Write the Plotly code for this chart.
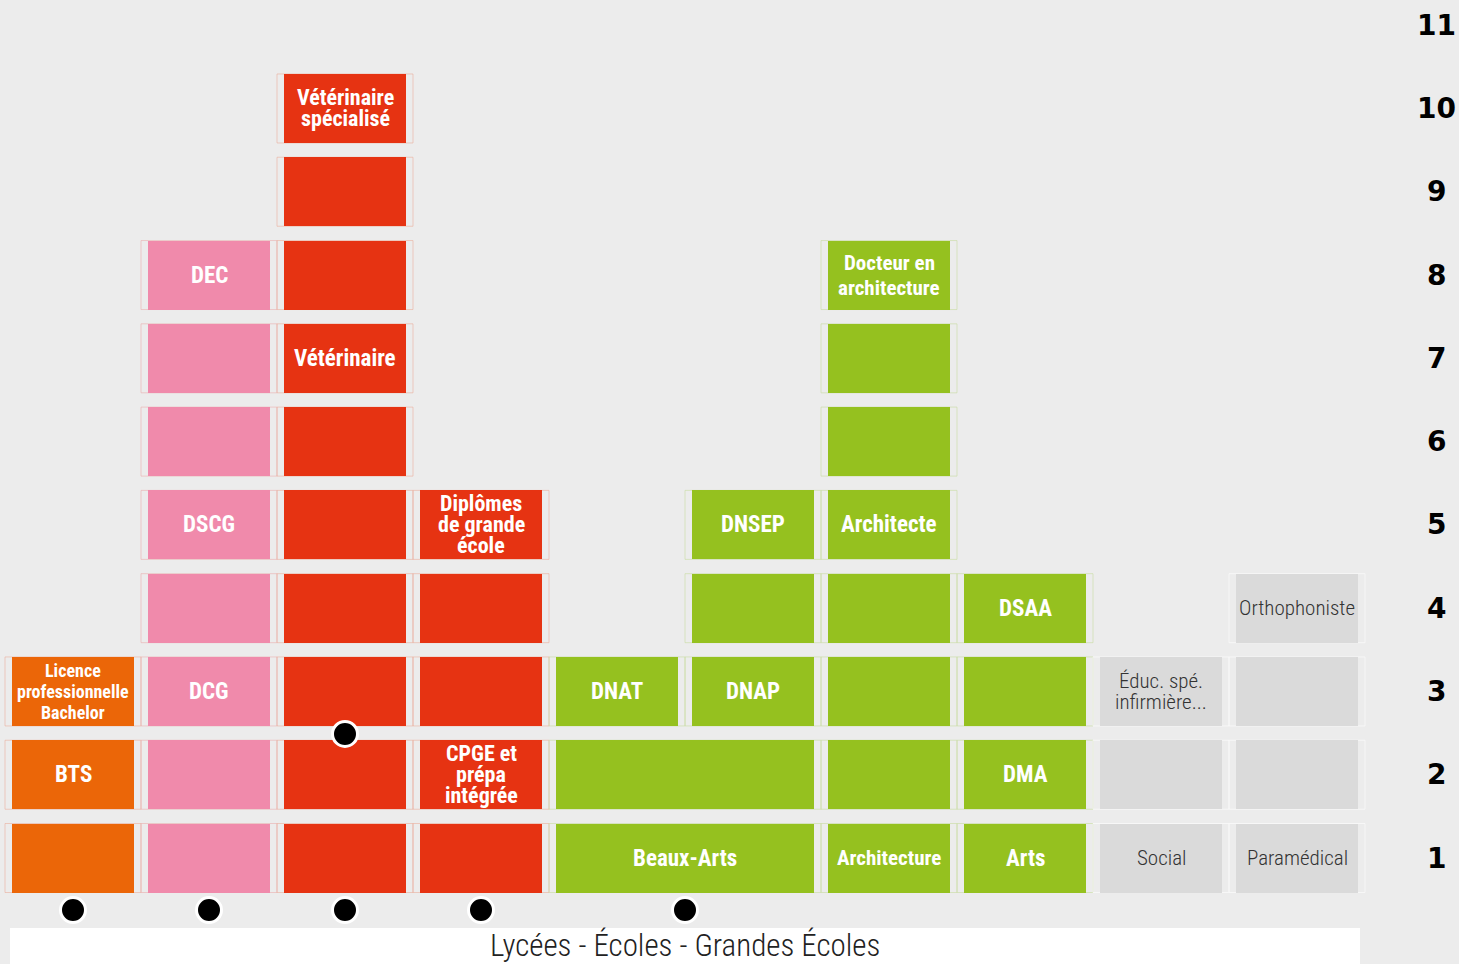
import plotly.graph_objects as go

# ---------------- data ----------------
levels = [1, 2, 3, 4, 5, 6, 7, 8, 9, 10, 11]

group_colors = {
    "orange": "#eb6608",
    "pink": "#f08aab",
    "red": "#e63312",
    "green": "#95c11f",
    "gray": "#dadada",
}
group_lines = {
    "orange": "rgba(235,170,150,0.55)",
    "pink": "rgba(235,170,170,0.55)",
    "red": "rgba(235,170,150,0.55)",
    "green": "rgba(200,220,160,0.6)",
    "gray": "rgba(250,250,250,0.8)",
}

block_cols = [0, 0, 0,
              1, 1, 1, 1, 1, 1, 1, 1,
              2, 2, 2, 2, 2, 2, 2, 2, 2, 2,
              3, 3, 3, 3, 3,
              4.5, 4.5, 4,
              5, 5, 5,
              6, 6, 6, 6, 6, 6, 6, 6,
              7, 7, 7, 7,
              8, 8, 8,
              9, 9, 9, 9]
block_rows = [1, 2, 3,
              1, 2, 3, 4, 5, 6, 7, 8,
              1, 2, 3, 4, 5, 6, 7, 8, 9, 10,
              1, 2, 3, 4, 5,
              1, 2, 3,
              3, 4, 5,
              1, 2, 3, 4, 5, 6, 7, 8,
              1, 2, 3, 4,
              1, 2, 3,
              1, 2, 3, 4]
block_spans = [1] * 26 + [2, 2] + [1] * 23
block_groups = (["orange"] * 3 + ["pink"] * 8 + ["red"] * 10 + ["red"] * 5
                + ["green"] * 3 + ["green"] * 3 + ["green"] * 8 + ["green"] * 4
                + ["gray"] * 3 + ["gray"] * 4)
block_labels = ["", "BTS", "Licence\nprofessionnelle\nBachelor",
                "", "", "DCG", "", "DSCG", "", "", "DEC",
                "", "", "", "", "", "", "Vétérinaire", "", "", "Vétérinaire\nspécialisé",
                "", "CPGE et\nprépa\nintégrée", "", "", "Diplômes\nde grande\nécole",
                "Beaux-Arts", "", "DNAT",
                "DNAP", "", "DNSEP",
                "Architecture", "", "", "", "Architecte", "", "", "Docteur en\narchitecture",
                "Arts", "DMA", "", "DSAA",
                "Social", "", "Éduc. spé.\ninfirmière...",
                "Paramédical", "", "", "Orthophoniste"]

dot_cols = [0, 1, 2, 3, 4.5, 2]
dot_rows = [0.375, 0.375, 0.375, 0.375, 0.375, 2.49]

axis_title = "Lycées - Écoles - Grandes Écoles"

# ---------------- geometry / style ----------------
W, H = 1459, 964
PX_X = 136.0          # pixels per column
PX_Y = 83.28          # pixels per level
X0 = -73 / PX_X
X1 = (W - 73) / PX_X
Y0 = 1 - (H - 858) / PX_Y
Y1 = 1 + 858 / PX_Y
BLOCK_H = 69 / PX_Y
GAP_X = 14 / PX_X

BG = "#ececec"
FONT = "Roboto Condensed, Liberation Sans Narrow, sans-serif"

# per-label text tweaks (size, line spacing) for squeezed labels
label_style = {
    "Licence\nprofessionnelle\nBachelor": (18, 21),
    "Architecture": (21, 21),
    "Docteur en\narchitecture": (21, 25),
}

fig = go.Figure()

# cell outlines
shapes = []
for c, r, s, g in zip(block_cols, block_rows, block_spans, block_groups):
    shapes.append(dict(type="rect", xref="x", yref="y",
                       x0=c - s / 2, x1=c + s / 2,
                       y0=r - BLOCK_H / 2, y1=r + BLOCK_H / 2,
                       line=dict(color=group_lines[g], width=1),
                       fillcolor="rgba(0,0,0,0)", layer="below"))

# white bottom box
shapes.append(dict(type="rect", xref="x", yref="paper",
                   x0=(10 - 73) / PX_X, x1=(1360 - 73) / PX_X,
                   y0=0, y1=(H - 928) / H,
                   line=dict(width=0), fillcolor="white", layer="below"))

# blocks as bars, one trace per group
for g in ["orange", "pink", "red", "green", "gray"]:
    idx = [i for i, gg in enumerate(block_groups) if gg == g]
    fig.add_trace(go.Bar(
        x=[block_cols[i] for i in idx],
        y=[BLOCK_H for i in idx],
        base=[block_rows[i] - BLOCK_H / 2 for i in idx],
        width=[block_spans[i] - GAP_X for i in idx],
        marker=dict(color=group_colors[g], line=dict(width=0)),
        hoverinfo="skip", showlegend=False,
    ))

# dots
fig.add_trace(go.Scatter(
    x=dot_cols, y=dot_rows, mode="markers",
    marker=dict(size=25, color="black", line=dict(color="white", width=3)),
    hoverinfo="skip", showlegend=False, cliponaxis=False,
))

annotations = []
for c, r, g, lab in zip(block_cols, block_rows, block_groups, block_labels):
    if not lab:
        continue
    lines = lab.split("\n")
    n = len(lines)
    gray = g == "gray"
    default_size = 21 if gray else (23 if n == 1 else 22)
    size, spacing = label_style.get(lab, (default_size, 21))
    for i, line in enumerate(lines):
        annotations.append(dict(
            x=c, y=r, xref="x", yref="y", text=line, showarrow=False,
            yshift=((n - 1) / 2 - i) * spacing,
            font=dict(family=FONT, size=size,
                      color="#333333" if gray else "white",
                      weight=300 if gray else "bold"),
            xanchor="center", yanchor="middle",
        ))

# level labels on the right
for lv in levels:
    annotations.append(dict(
        x=(1436 - 73) / PX_X, y=lv, xref="x", yref="y", text=str(lv),
        showarrow=False, xanchor="center", yanchor="middle",
        font=dict(family="DejaVu Sans, sans-serif", size=28, color="black",
                  weight="bold"),
    ))

# bottom title
annotations.append(dict(
    x=(685 - 73) / PX_X, y=(H - 945) / H, xref="x", yref="paper",
    text=axis_title, showarrow=False, xanchor="center", yanchor="middle",
    font=dict(family=FONT, size=31, color="#222222", weight=300),
))

fig.update_layout(
    width=W, height=H, autosize=False,
    margin=dict(l=0, r=0, t=0, b=0, pad=0),
    paper_bgcolor=BG, plot_bgcolor=BG,
    barmode="overlay", bargap=0,
    xaxis=dict(range=[X0, X1], visible=False, fixedrange=True),
    yaxis=dict(range=[Y0, Y1], visible=False, fixedrange=True),
    shapes=shapes, annotations=annotations,
)

fig.write_html("out.html", config={"displayModeBar": False},
               post_script="document.body.style.margin='0';")
